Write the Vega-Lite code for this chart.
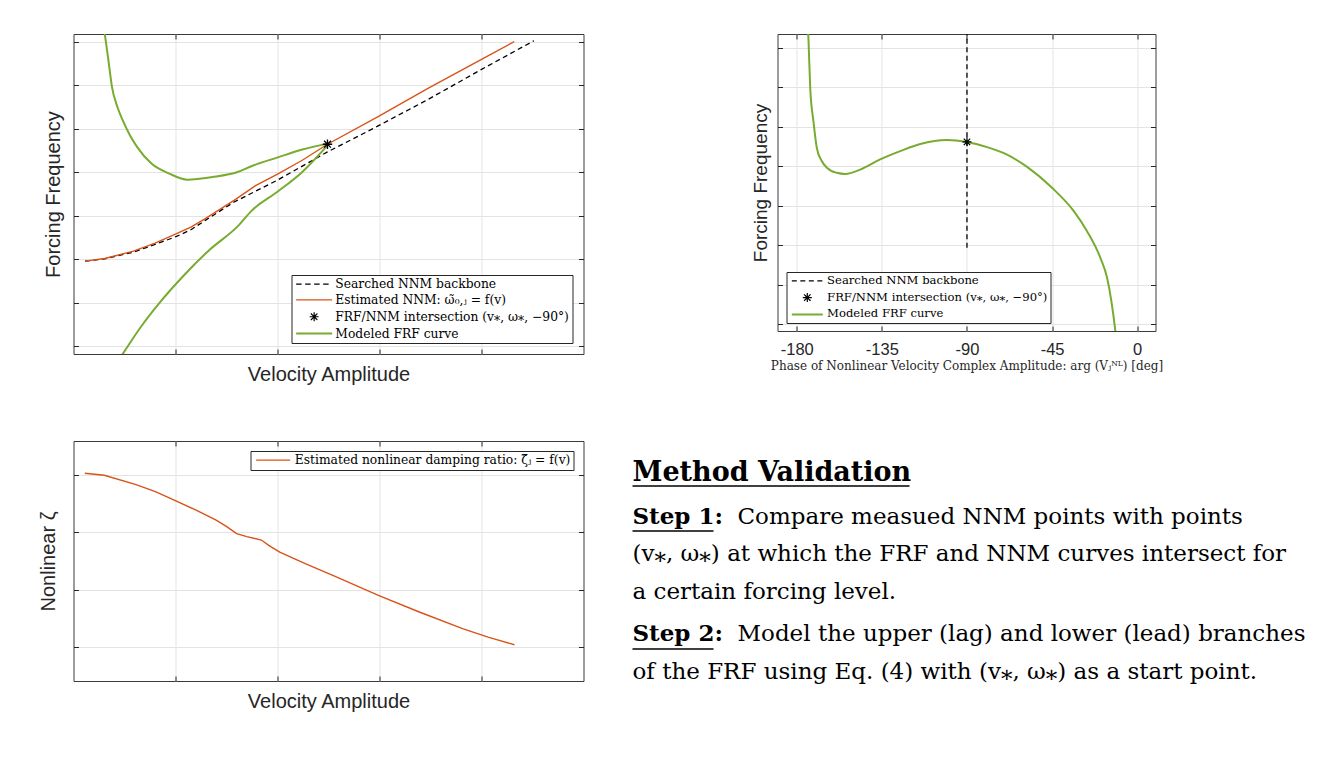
{
"$schema": "https://vega.github.io/schema/vega-lite/v6.json",
"background": "white",
"padding": {"left": 37.5, "top": 12, "right": 5, "bottom": 5},
"columns": 1,
"align": "none",
"spacing": 55,
"resolve": {"scale": {"color": "independent"}, "legend": {"color": "independent"}},
"config": {
  "view": {"stroke": "#3a3a3a", "strokeWidth": 1},
  "axis": {"gridColor": "#e3e3e3", "gridWidth": 1, "domain": false, "tickColor": "#262626", "tickSize": -5, "titleFont": "Liberation Sans", "titleFontWeight": "normal", "titleColor": "#262626", "labelFont": "Liberation Sans", "labelColor": "#262626"},
  "legend": {"title": null, "strokeColor": "#262626", "fillColor": "#ffffff", "padding": 3, "labelFont": "DejaVu Serif", "labelColor": "#000000", "labelLimit": 600, "symbolSize": 81, "cornerRadius": 0}
},
"datasets": {
  "p1": [
    {"k":"bb","s":"Searched NNM backbone","b":"a","i":0,"v":0.113,"w":1.954},
    {"k":"bb","s":"Searched NNM backbone","b":"a","i":1,"v":0.306,"w":2.008},
    {"k":"bb","s":"Searched NNM backbone","b":"a","i":2,"v":0.588,"w":2.162},
    {"k":"bb","s":"Searched NNM backbone","b":"a","i":3,"v":0.8,"w":2.338},
    {"k":"bb","s":"Searched NNM backbone","b":"a","i":4,"v":1.01,"w":2.523},
    {"k":"bb","s":"Searched NNM backbone","b":"a","i":5,"v":1.151,"w":2.677},
    {"k":"bb","s":"Searched NNM backbone","b":"a","i":6,"v":1.292,"w":2.892},
    {"k":"bb","s":"Searched NNM backbone","b":"a","i":7,"v":1.574,"w":3.315},
    {"k":"bb","s":"Searched NNM backbone","b":"a","i":8,"v":1.996,"w":3.815},
    {"k":"bb","s":"Searched NNM backbone","b":"a","i":9,"v":2.49,"w":4.469},
    {"k":"bb","s":"Searched NNM backbone","b":"a","i":10,"v":2.982,"w":5.062},
    {"k":"bb","s":"Searched NNM backbone","b":"a","i":11,"v":3.475,"w":5.677},
    {"k":"bb","s":"Searched NNM backbone","b":"a","i":12,"v":4.0,"w":6.369},
    {"k":"bb","s":"Searched NNM backbone","b":"a","i":13,"v":4.514,"w":7.03},
    {"k":"nnm","s":"Estimated NNM: ω̃₀,ⱼ = f(v)","b":"a","i":0,"v":0.113,"w":1.954},
    {"k":"nnm","s":"Estimated NNM: ω̃₀,ⱼ = f(v)","b":"a","i":1,"v":0.306,"w":2.015},
    {"k":"nnm","s":"Estimated NNM: ω̃₀,ⱼ = f(v)","b":"a","i":2,"v":0.588,"w":2.185},
    {"k":"nnm","s":"Estimated NNM: ω̃₀,ⱼ = f(v)","b":"a","i":3,"v":0.8,"w":2.369},
    {"k":"nnm","s":"Estimated NNM: ω̃₀,ⱼ = f(v)","b":"a","i":4,"v":1.01,"w":2.585},
    {"k":"nnm","s":"Estimated NNM: ω̃₀,ⱼ = f(v)","b":"a","i":5,"v":1.151,"w":2.738},
    {"k":"nnm","s":"Estimated NNM: ω̃₀,ⱼ = f(v)","b":"a","i":6,"v":1.292,"w":2.931},
    {"k":"nnm","s":"Estimated NNM: ω̃₀,ⱼ = f(v)","b":"a","i":7,"v":1.574,"w":3.354},
    {"k":"nnm","s":"Estimated NNM: ω̃₀,ⱼ = f(v)","b":"a","i":8,"v":1.785,"w":3.692},
    {"k":"nnm","s":"Estimated NNM: ω̃₀,ⱼ = f(v)","b":"a","i":9,"v":1.996,"w":3.954},
    {"k":"nnm","s":"Estimated NNM: ω̃₀,ⱼ = f(v)","b":"a","i":10,"v":2.243,"w":4.277},
    {"k":"nnm","s":"Estimated NNM: ω̃₀,ⱼ = f(v)","b":"a","i":11,"v":2.49,"w":4.646},
    {"k":"nnm","s":"Estimated NNM: ω̃₀,ⱼ = f(v)","b":"a","i":12,"v":2.982,"w":5.277},
    {"k":"nnm","s":"Estimated NNM: ω̃₀,ⱼ = f(v)","b":"a","i":13,"v":3.475,"w":5.931},
    {"k":"nnm","s":"Estimated NNM: ω̃₀,ⱼ = f(v)","b":"a","i":14,"v":4.0,"w":6.6},
    {"k":"nnm","s":"Estimated NNM: ω̃₀,ⱼ = f(v)","b":"a","i":15,"v":4.32,"w":7.008},
    {"k":"frf","s":"Modeled FRF curve","b":"u","i":0,"v":0.288,"w":7.5},
    {"k":"frf","s":"Modeled FRF curve","b":"u","i":1,"v":0.306,"w":7.2},
    {"k":"frf","s":"Modeled FRF curve","b":"u","i":2,"v":0.342,"w":6.585},
    {"k":"frf","s":"Modeled FRF curve","b":"u","i":3,"v":0.377,"w":5.969},
    {"k":"frf","s":"Modeled FRF curve","b":"u","i":4,"v":0.43,"w":5.508},
    {"k":"frf","s":"Modeled FRF curve","b":"u","i":5,"v":0.482,"w":5.2},
    {"k":"frf","s":"Modeled FRF curve","b":"u","i":6,"v":0.553,"w":4.854},
    {"k":"frf","s":"Modeled FRF curve","b":"u","i":7,"v":0.623,"w":4.585},
    {"k":"frf","s":"Modeled FRF curve","b":"u","i":8,"v":0.764,"w":4.2},
    {"k":"frf","s":"Modeled FRF curve","b":"u","i":9,"v":0.94,"w":3.969},
    {"k":"frf","s":"Modeled FRF curve","b":"u","i":10,"v":1.116,"w":3.831},
    {"k":"frf","s":"Modeled FRF curve","b":"u","i":11,"v":1.363,"w":3.892},
    {"k":"frf","s":"Modeled FRF curve","b":"u","i":12,"v":1.609,"w":4.008},
    {"k":"frf","s":"Modeled FRF curve","b":"u","i":13,"v":1.75,"w":4.146},
    {"k":"frf","s":"Modeled FRF curve","b":"u","i":14,"v":1.996,"w":4.338},
    {"k":"frf","s":"Modeled FRF curve","b":"u","i":15,"v":2.243,"w":4.523},
    {"k":"frf","s":"Modeled FRF curve","b":"u","i":16,"v":2.49,"w":4.66},
    {"k":"frf","s":"Modeled FRF curve","b":"l","i":0,"v":0.421,"w":-0.4},
    {"k":"frf","s":"Modeled FRF curve","b":"l","i":1,"v":0.482,"w":-0.185},
    {"k":"frf","s":"Modeled FRF curve","b":"l","i":2,"v":0.658,"w":0.431},
    {"k":"frf","s":"Modeled FRF curve","b":"l","i":3,"v":0.835,"w":0.969},
    {"k":"frf","s":"Modeled FRF curve","b":"l","i":4,"v":1.081,"w":1.623},
    {"k":"frf","s":"Modeled FRF curve","b":"l","i":5,"v":1.327,"w":2.2},
    {"k":"frf","s":"Modeled FRF curve","b":"l","i":6,"v":1.609,"w":2.754},
    {"k":"frf","s":"Modeled FRF curve","b":"l","i":7,"v":1.75,"w":3.123},
    {"k":"frf","s":"Modeled FRF curve","b":"l","i":8,"v":1.996,"w":3.546},
    {"k":"frf","s":"Modeled FRF curve","b":"l","i":9,"v":2.243,"w":4.008},
    {"k":"frf","s":"Modeled FRF curve","b":"l","i":10,"v":2.49,"w":4.62},
    {"k":"st","s":"FRF/NNM intersection (v⁎, ω⁎, −90°)","b":"a","i":0,"v":2.49,"w":4.646}
  ],
  "p2": [
    {"k":"bb","s":"Searched NNM backbone","b":"a","i":0,"v":-90,"w":1.93},
    {"k":"bb","s":"Searched NNM backbone","b":"a","i":1,"v":-90,"w":7.35},
    {"k":"frf","s":"Modeled FRF curve","b":"a","i":0,"v":-174.4,"w":7.8},
    {"k":"frf","s":"Modeled FRF curve","b":"a","i":1,"v":-173.8,"w":7.185},
    {"k":"frf","s":"Modeled FRF curve","b":"a","i":2,"v":-172.9,"w":5.985},
    {"k":"frf","s":"Modeled FRF curve","b":"a","i":3,"v":-171.2,"w":5.14},
    {"k":"frf","s":"Modeled FRF curve","b":"a","i":4,"v":-169.4,"w":4.46},
    {"k":"frf","s":"Modeled FRF curve","b":"a","i":5,"v":-166.8,"w":4.13},
    {"k":"frf","s":"Modeled FRF curve","b":"a","i":6,"v":-164.1,"w":3.96},
    {"k":"frf","s":"Modeled FRF curve","b":"a","i":7,"v":-158.8,"w":3.83},
    {"k":"frf","s":"Modeled FRF curve","b":"a","i":8,"v":-154.4,"w":3.8},
    {"k":"frf","s":"Modeled FRF curve","b":"a","i":9,"v":-146.5,"w":3.91},
    {"k":"frf","s":"Modeled FRF curve","b":"a","i":10,"v":-135.9,"w":4.17},
    {"k":"frf","s":"Modeled FRF curve","b":"a","i":11,"v":-125.3,"w":4.38},
    {"k":"frf","s":"Modeled FRF curve","b":"a","i":12,"v":-114.7,"w":4.56},
    {"k":"frf","s":"Modeled FRF curve","b":"a","i":13,"v":-100.6,"w":4.66},
    {"k":"frf","s":"Modeled FRF curve","b":"a","i":14,"v":-90,"w":4.61},
    {"k":"frf","s":"Modeled FRF curve","b":"a","i":15,"v":-79.4,"w":4.48},
    {"k":"frf","s":"Modeled FRF curve","b":"a","i":16,"v":-68.8,"w":4.29},
    {"k":"frf","s":"Modeled FRF curve","b":"a","i":17,"v":-58.2,"w":3.98},
    {"k":"frf","s":"Modeled FRF curve","b":"a","i":18,"v":-45,"w":3.45},
    {"k":"frf","s":"Modeled FRF curve","b":"a","i":19,"v":-33.5,"w":2.86},
    {"k":"frf","s":"Modeled FRF curve","b":"a","i":20,"v":-26.5,"w":2.35},
    {"k":"frf","s":"Modeled FRF curve","b":"a","i":21,"v":-19.4,"w":1.67},
    {"k":"frf","s":"Modeled FRF curve","b":"a","i":22,"v":-15.9,"w":1.17},
    {"k":"frf","s":"Modeled FRF curve","b":"a","i":23,"v":-11.5,"w":-0.19},
    {"k":"frf","s":"Modeled FRF curve","b":"a","i":24,"v":-11.0,"w":-0.4},
    {"k":"st","s":"FRF/NNM intersection (v⁎, ω⁎, −90°)","b":"a","i":0,"v":-90,"w":4.615}
  ],
  "p3": [
    {"s":"Estimated nonlinear damping ratio: ζ̃ⱼ = f(v)","i":0,"v":0.111,"w":4.035},
    {"s":"Estimated nonlinear damping ratio: ζ̃ⱼ = f(v)","i":1,"v":0.301,"w":4.0},
    {"s":"Estimated nonlinear damping ratio: ζ̃ⱼ = f(v)","i":2,"v":0.606,"w":3.842},
    {"s":"Estimated nonlinear damping ratio: ζ̃ⱼ = f(v)","i":3,"v":0.803,"w":3.714},
    {"s":"Estimated nonlinear damping ratio: ζ̃ⱼ = f(v)","i":4,"v":0.982,"w":3.568},
    {"s":"Estimated nonlinear damping ratio: ζ̃ⱼ = f(v)","i":5,"v":1.197,"w":3.393},
    {"s":"Estimated nonlinear damping ratio: ζ̃ⱼ = f(v)","i":6,"v":1.394,"w":3.218},
    {"s":"Estimated nonlinear damping ratio: ζ̃ⱼ = f(v)","i":7,"v":1.502,"w":3.101},
    {"s":"Estimated nonlinear damping ratio: ζ̃ⱼ = f(v)","i":8,"v":1.599,"w":2.978},
    {"s":"Estimated nonlinear damping ratio: ζ̃ⱼ = f(v)","i":9,"v":1.699,"w":2.926},
    {"s":"Estimated nonlinear damping ratio: ζ̃ⱼ = f(v)","i":10,"v":1.842,"w":2.867},
    {"s":"Estimated nonlinear damping ratio: ζ̃ⱼ = f(v)","i":11,"v":1.914,"w":2.774},
    {"s":"Estimated nonlinear damping ratio: ζ̃ⱼ = f(v)","i":12,"v":2.022,"w":2.657},
    {"s":"Estimated nonlinear damping ratio: ζ̃ⱼ = f(v)","i":13,"v":2.272,"w":2.453},
    {"s":"Estimated nonlinear damping ratio: ζ̃ⱼ = f(v)","i":14,"v":2.559,"w":2.237},
    {"s":"Estimated nonlinear damping ratio: ζ̃ⱼ = f(v)","i":15,"v":2.989,"w":1.898},
    {"s":"Estimated nonlinear damping ratio: ζ̃ⱼ = f(v)","i":16,"v":3.384,"w":1.612},
    {"s":"Estimated nonlinear damping ratio: ζ̃ⱼ = f(v)","i":17,"v":3.814,"w":1.315},
    {"s":"Estimated nonlinear damping ratio: ζ̃ⱼ = f(v)","i":18,"v":4.065,"w":1.169},
    {"s":"Estimated nonlinear damping ratio: ζ̃ⱼ = f(v)","i":19,"v":4.323,"w":1.034}
  ],
  "txt": [
    {"k":"head","t":"Method Validation","x":0,"y":40},
    {"k":"bold","t":"Step 1:","x":0,"y":83},
    {"k":"norm","t":"Compare measued NNM points with points","x":105,"y":83},
    {"k":"norm","t":"(v⁎, ω⁎) at which the FRF and NNM curves intersect for","x":0,"y":120},
    {"k":"norm","t":"a certain forcing level.","x":0,"y":158},
    {"k":"bold","t":"Step 2:","x":0,"y":200},
    {"k":"norm","t":"Model the upper (lag) and lower (lead) branches","x":105,"y":200},
    {"k":"norm","t":"of the FRF using Eq. (4) with (v⁎, ω⁎) as a start point.","x":0,"y":238}
  ],
  "ul": [
    {"x":0,"x2":277,"y":45},
    {"x":0,"x2":81,"y":90},
    {"x":0,"x2":81,"y":208}
  ]
},
"concat": [
  {
    "spacing": 166,
    "resolve": {"scale": {"color": "independent"}, "legend": {"color": "independent"}},
    "hconcat": [
      {
        "width": 510, "height": 320,
        "data": {"name": "p1"},
        "layer": [
          {
            "encoding": {
              "x": {"field": "v", "type": "quantitative", "scale": {"domain": [0, 5], "nice": false, "zero": false},
                    "axis": {"values": [1,2,3,4], "labels": false, "title": "Velocity Amplitude", "titleFontSize": 20, "titlePadding": 10, "grid": true}},
              "y": {"field": "w", "type": "quantitative", "scale": {"domain": [-0.185, 7.185], "nice": false, "zero": false},
                    "axis": {"values": [0,1,2,3,4,5,6,7], "labels": false, "title": "Forcing Frequency", "titleFontSize": 20, "titlePadding": 10, "grid": true}},
              "order": {"field": "i", "type": "quantitative"},
              "color": {"field": "s", "type": "nominal",
                "scale": {"domain": ["Searched NNM backbone", "Estimated NNM: ω̃₀,ⱼ = f(v)", "FRF/NNM intersection (v⁎, ω⁎, −90°)", "Modeled FRF curve"], "range": ["#000000", "#D95319", "#000000", "#77AC30"]},
                "legend": {"orient": "bottom-right", "offset": 11, "labelFont": "DejaVu Serif", "labelFontSize": 12.3, "symbolOffset": 13.5, "labelOffset": 15, "rowPadding": 2.8,
                  "encode": {"symbols": {"update": {
                    "shape": {"signal": "datum.value === 'FRF/NNM intersection (v⁎, ω⁎, −90°)' ? 'M-1,0L1,0M0,-1L0,1M-0.72,-0.72L0.72,0.72M-0.72,0.72L0.72,-0.72' : 'M-4,0L4,0'"},
                    "stroke": {"signal": "datum.value === 'Modeled FRF curve' ? '#77AC30' : ((datum.value === 'Searched NNM backbone' || datum.value === 'FRF/NNM intersection (v⁎, ω⁎, −90°)') ? '#000000' : '#D95319')"},
                    "strokeWidth": {"signal": "datum.value === 'Modeled FRF curve' ? 2 : 1.2"},
                    "strokeDash": {"signal": "datum.value === 'Searched NNM backbone' ? [5.5, 3.5] : [1, 0]"},
                    "fill": {"value": "transparent"},
                    "opacity": {"value": 1},
                    "size": {"value": 81}
                  }}, "labels": {"update": {"font": {"value": "DejaVu Serif"}}}}}}
            },
            "layer": [
              {
                "transform": [{"filter": "datum.k === 'bb'"}],
                "mark": {"type": "line", "strokeDash": [5, 3.5], "strokeWidth": 1.3, "clip": true}
              },
              {
                "transform": [{"filter": "datum.k === 'nnm'"}],
                "mark": {"type": "line", "strokeWidth": 1.4, "clip": true}
              },
              {
                "transform": [{"filter": "datum.k === 'frf'"}],
                "mark": {"type": "line", "strokeWidth": 2, "clip": true, "interpolate": "monotone"},
                "encoding": {"detail": {"field": "b"}}
              },
              {
                "transform": [{"filter": "datum.k === 'st'"}],
                "mark": {"type": "point", "shape": "M-1,0L1,0M0,-1L0,1M-0.72,-0.72L0.72,0.72M-0.72,0.72L0.72,-0.72", "filled": false, "size": 90, "strokeWidth": 1.3, "opacity": 1}
              }
            ]
          },
          {
            "mark": {"type": "point", "opacity": 0},
            "encoding": {
              "x": {"field": "v", "type": "quantitative", "axis": {"orient": "top", "values": [1,2,3,4], "labels": false, "title": null, "grid": false}},
              "y": {"field": "w", "type": "quantitative", "axis": {"orient": "right", "values": [0,1,2,3,4,5,6,7], "labels": false, "title": null, "grid": false}}
            }
          }
        ],
        "resolve": {"axis": {"x": "independent", "y": "independent"}}
      },
      {
        "width": 378, "height": 297,
        "data": {"name": "p2"},
        "layer": [
          {
            "encoding": {
              "x": {"field": "v", "type": "quantitative", "scale": {"domain": [-190.2, 9.7], "nice": false, "zero": false},
                    "axis": {"values": [-180,-135,-90,-45,0], "labelExpr": "'' + datum.value", "labelFontSize": 16.5, "labelPadding": 15, "title": "Phase of Nonlinear Velocity Complex Amplitude: arg (Vⱼᴺᴸ) [deg]", "titleFont": "DejaVu Serif", "titleFontSize": 12, "titlePadding": 3, "grid": true}},
              "y": {"field": "w", "type": "quantitative", "scale": {"domain": [-0.177, 7.347], "nice": false, "zero": false},
                    "axis": {"values": [0,1,2,3,4,5,6,7], "labels": false, "title": "Forcing Frequency", "titleFontSize": 19, "titlePadding": 7, "grid": true}},
              "order": {"field": "i", "type": "quantitative"},
              "color": {"field": "s", "type": "nominal",
                "scale": {"domain": ["Searched NNM backbone", "FRF/NNM intersection (v⁎, ω⁎, −90°)", "Modeled FRF curve"], "range": ["#000000", "#000000", "#77AC30"]},
                "legend": {"orient": "bottom-left", "offset": 8.5, "labelFont": "DejaVu Serif", "labelFontSize": 11.6, "symbolOffset": 12, "labelOffset": 14, "rowPadding": 2.8,
                  "encode": {"symbols": {"update": {
                    "shape": {"signal": "datum.value === 'FRF/NNM intersection (v⁎, ω⁎, −90°)' ? 'M-1,0L1,0M0,-1L0,1M-0.72,-0.72L0.72,0.72M-0.72,0.72L0.72,-0.72' : 'M-3.44,0L3.44,0'"},
                    "stroke": {"signal": "datum.value === 'Modeled FRF curve' ? '#77AC30' : '#000000'"},
                    "strokeWidth": {"signal": "datum.value === 'Modeled FRF curve' ? 2 : 1.2"},
                    "strokeDash": {"signal": "datum.value === 'Searched NNM backbone' ? [5, 3.5] : [1, 0]"},
                    "fill": {"value": "transparent"},
                    "opacity": {"value": 1},
                    "size": {"value": 81}
                  }}}}}
            },
            "layer": [
              {
                "transform": [{"filter": "datum.k === 'bb'"}],
                "mark": {"type": "line", "strokeDash": [5, 3.5], "strokeWidth": 1.3, "clip": true}
              },
              {
                "transform": [{"filter": "datum.k === 'frf'"}],
                "mark": {"type": "line", "strokeWidth": 2, "clip": true, "interpolate": "monotone"}
              },
              {
                "transform": [{"filter": "datum.k === 'st'"}],
                "mark": {"type": "point", "shape": "M-1,0L1,0M0,-1L0,1M-0.72,-0.72L0.72,0.72M-0.72,0.72L0.72,-0.72", "filled": false, "size": 80, "strokeWidth": 1.2, "opacity": 1}
              }
            ]
          },
          {
            "mark": {"type": "point", "opacity": 0},
            "encoding": {
              "x": {"field": "v", "type": "quantitative", "axis": {"orient": "top", "values": [-180,-135,-90,-45,0], "labels": false, "title": null, "grid": false}},
              "y": {"field": "w", "type": "quantitative", "axis": {"orient": "right", "values": [0,1,2,3,4,5,6,7], "labels": false, "title": null, "grid": false}}
            }
          }
        ],
        "resolve": {"axis": {"x": "independent", "y": "independent"}}
      }
    ]
  },
  {
    "spacing": 47,
    "resolve": {"scale": {"color": "independent"}, "legend": {"color": "independent"}},
    "hconcat": [
      {
        "width": 510, "height": 240,
        "data": {"name": "p3"},
        "layer": [
          {
            "encoding": {
              "x": {"field": "v", "type": "quantitative", "scale": {"domain": [0, 5], "nice": false, "zero": false},
                    "axis": {"values": [1,2,3,4], "labels": false, "title": "Velocity Amplitude", "titleFontSize": 20, "titlePadding": 10, "grid": true}},
              "y": {"field": "w", "type": "quantitative", "scale": {"domain": [0.4, 4.6], "nice": false, "zero": false},
                    "axis": {"values": [1,2,3,4], "labels": false, "title": "Nonlinear ζ", "titleFontSize": 20, "titlePadding": 15, "grid": true}},
              "order": {"field": "i", "type": "quantitative"},
              "color": {"field": "s", "type": "nominal",
                "scale": {"domain": ["Estimated nonlinear damping ratio: ζ̃ⱼ = f(v)"], "range": ["#D95319"]},
                "legend": {"orient": "top-right", "offset": 10, "labelFont": "DejaVu Serif", "labelFontSize": 12.3, "symbolOffset": 13.5, "labelOffset": 15.5,
                  "encode": {"symbols": {"update": {
                    "shape": {"value": "M-3.78,0L3.78,0"},
                    "stroke": {"value": "#D95319"},
                    "strokeWidth": {"value": 1.3},
                    "fill": {"value": "transparent"},
                    "opacity": {"value": 1},
                    "size": {"value": 81}
                  }}}}}
            },
            "mark": {"type": "line", "strokeWidth": 1.4, "clip": true}
          },
          {
            "mark": {"type": "point", "opacity": 0},
            "encoding": {
              "x": {"field": "v", "type": "quantitative", "axis": {"orient": "top", "values": [1,2,3,4], "labels": false, "title": null, "grid": false}},
              "y": {"field": "w", "type": "quantitative", "axis": {"orient": "right", "values": [1,2,3,4], "labels": false, "title": null, "grid": false}}
            }
          }
        ],
        "resolve": {"axis": {"x": "independent", "y": "independent"}}
      },
      {
        "width": 680, "height": 250,
        "view": {"stroke": null},
        "encoding": {
          "x": {"field": "x", "type": "quantitative", "scale": {"domain": [0, 680], "nice": false, "zero": false}, "axis": null},
          "y": {"field": "y", "type": "quantitative", "scale": {"domain": [0, 250], "nice": false, "zero": false, "reverse": true}, "axis": null}
        },
        "layer": [
          {
            "data": {"name": "txt"},
            "transform": [{"filter": "datum.k === 'head'"}],
            "mark": {"type": "text", "font": "DejaVu Serif", "fontWeight": "bold", "fontSize": 27, "align": "left", "baseline": "alphabetic", "color": "#000000"},
            "encoding": {"text": {"field": "t"}}
          },
          {
            "data": {"name": "txt"},
            "transform": [{"filter": "datum.k === 'bold'"}],
            "mark": {"type": "text", "font": "DejaVu Serif", "fontWeight": "bold", "fontSize": 23, "align": "left", "baseline": "alphabetic", "color": "#000000"},
            "encoding": {"text": {"field": "t"}}
          },
          {
            "data": {"name": "txt"},
            "transform": [{"filter": "datum.k === 'norm'"}],
            "mark": {"type": "text", "font": "DejaVu Serif", "fontSize": 23, "align": "left", "baseline": "alphabetic", "color": "#000000"},
            "encoding": {"text": {"field": "t"}}
          },
          {
            "data": {"name": "ul"},
            "mark": {"type": "rule", "strokeWidth": 1.3, "color": "#000000"},
            "encoding": {"x2": {"field": "x2"}}
          }
        ]
      }
    ]
  }
]
}
